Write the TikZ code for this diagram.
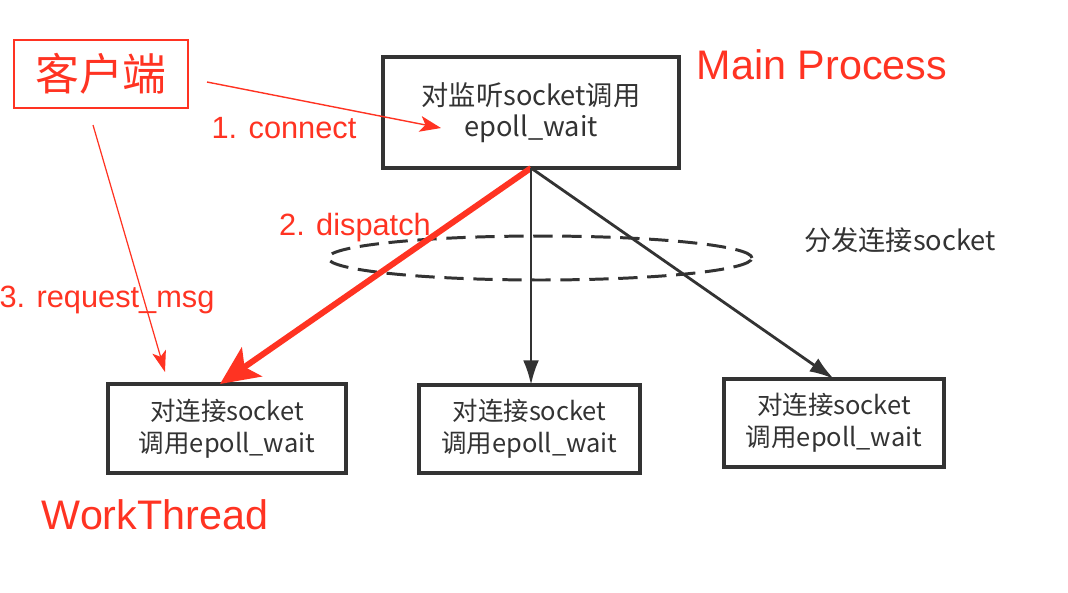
\documentclass[tikz,border=0pt]{standalone}
\usepackage{fontspec}
\setmainfont{Liberation Sans}
\newfontfamily\cjk{Noto Sans CJK SC}
\usetikzlibrary{arrows.meta}
\definecolor{redline}{HTML}{FF3322}
\definecolor{darkline}{HTML}{333333}

\begin{document}
\begin{tikzpicture}[x=0.02cm, y=-0.02cm]
\tikzset{ >={Stealth}, inner sep=0pt, outer sep=0pt,
  bloco/.style={draw=darkline, line width=1.8pt, align=center, text=darkline,
    font=\cjk\fontsize{14.5}{18}\selectfont},
  rotulo/.style={text=redline, font=\fontsize{17.5}{20}\selectfont},
  titulo/.style={text=redline, font=\fontsize{23.5}{26}\selectfont},
  seta/.style={->, darkline, line width=1.6pt, >={Latex[length=14pt, width=9pt]}},
}

\useasboundingbox (0,0) rectangle (1068,592);
%\draw [lightgray, dashed](0,0) grid[step=50] (1068,592);

%%% Blocos

% cliente
\node [draw=redline, line width=0.9pt, minimum width=3.48cm, minimum height=1.36cm,
  text=redline, font=\cjk\fontsize{25}{26}\selectfont] (CL) at (101,74) {客户端};

% processo principal
\node [bloco, font=\cjk\fontsize{15.5}{18}\selectfont, minimum width=5.92cm, minimum height=2.22cm] (MP) at (531,112.5)
  {对监听socket调用\\epoll\_wait};
\node [titulo] (MPt) at (822,65) {Main Process};

% work threads
\node [bloco, minimum width=4.76cm, minimum height=1.78cm] (WT1) at (227,428.5)
  {对连接socket\\调用epoll\_wait};
\node [bloco, minimum width=4.42cm, minimum height=1.76cm] (WT2) at (529.5,429)
  {对连接socket\\调用epoll\_wait};
\node [bloco, minimum width=4.40cm, minimum height=1.76cm] (WT3) at (834,423)
  {对连接socket\\调用epoll\_wait};
\node [titulo] (WTt) at (155,515) {WorkThread};

% distribuicao
\draw [darkline, line width=1.7pt, dash pattern=on 11pt off 5.5pt] (540,258) ellipse [x radius=4.24cm, y radius=0.44cm];
\node [text=darkline, font=\cjk\fontsize{15.5}{18}\selectfont] (DS) at (900,240) {分发连接socket};

%%% Linhas

% cliente -> main process
\coordinate (C1a) at (207,82);
\coordinate (C1b) at (441,128);
\draw [->, redline, line width=0.8pt, >={Stealth[length=12pt, width=9pt, inset=3pt]}] (C1a) -- (C1b);
\node [rotulo] (C1t) at (284,128) {1. connect};

% main process -> work threads
\coordinate (WT1in) at ([xshift=-0.14cm]WT1.north);
\draw [->, redline, line width=3.4pt, >={Stealth[length=22pt, width=20pt, inset=5pt]}] (MP.south) -- (WT1in);
\node [rotulo] (C2t) at (355,228) {2. dispatch};
\draw [seta] (MP.south) -- (MP.south |- WT2.north);
\draw [seta] (MP.south) -- (WT3.north);

% cliente -> work thread
\coordinate (C3a) at (93,125);
\coordinate (C3b) at (165,372);
\draw [->, redline, line width=0.7pt, >={Stealth[length=12pt, width=8pt, inset=3pt]}] (C3a) -- (C3b);
\node [rotulo] (C3t) at (107,300) {3. request\_msg};

\end{tikzpicture}
\end{document}
